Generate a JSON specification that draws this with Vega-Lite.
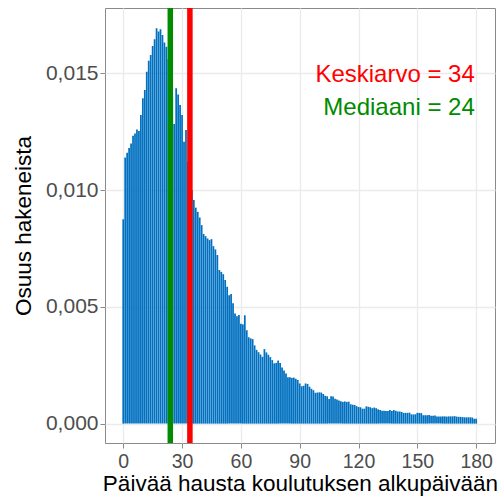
{
  "$schema": "https://vega.github.io/schema/vega-lite/v6.json",
  "autosize": "none",
  "width": 390,
  "height": 435,
  "padding": {"left": 105, "top": 8, "right": 8, "bottom": 58},
  "background": "white",
  "config": {
    "view": {"stroke": "#8a8a8a", "strokeWidth": 1},
    "font": "Liberation Sans",
    "axis": {
      "domain": false,
      "grid": true,
      "gridColor": "#EBEBEB",
      "gridWidth": 1.3,
      "tickColor": "#8a8a8a",
      "tickSize": 5,
      "labelFont": "Liberation Sans",
      "labelFontSize": 19.5,
      "labelColor": "#4D4D4D",
      "labelPadding": 2,
      "titleFont": "Liberation Sans",
      "titleFontSize": 22.5,
      "titleFontWeight": "normal",
      "titleColor": "#000000"
    }
  },
  "datasets": {
    "bars": [
      {"day": 0, "share": 0.00875}, {"day": 1, "share": 0.0114}, {"day": 2, "share": 0.0116}, {"day": 3, "share": 0.0118}, {"day": 4, "share": 0.012}, {"day": 5, "share": 0.01233}, {"day": 6, "share": 0.01243}, {"day": 7, "share": 0.0126}, {"day": 8, "share": 0.01253}, {"day": 9, "share": 0.01322},
      {"day": 10, "share": 0.01393}, {"day": 11, "share": 0.01429}, {"day": 12, "share": 0.01507}, {"day": 13, "share": 0.01554}, {"day": 14, "share": 0.01579}, {"day": 15, "share": 0.01617}, {"day": 16, "share": 0.01646}, {"day": 17, "share": 0.01693}, {"day": 18, "share": 0.01679}, {"day": 19, "share": 0.01689},
      {"day": 20, "share": 0.01664}, {"day": 21, "share": 0.01632}, {"day": 22, "share": 0.01614}, {"day": 23, "share": 0.0156}, {"day": 24, "share": 0.0148}, {"day": 25, "share": 0.014}, {"day": 26, "share": 0.01283}, {"day": 27, "share": 0.01436}, {"day": 28, "share": 0.0141}, {"day": 29, "share": 0.01365},
      {"day": 30, "share": 0.01322}, {"day": 31, "share": 0.01207}, {"day": 32, "share": 0.01258}, {"day": 33, "share": 0.0112}, {"day": 34, "share": 0.0105}, {"day": 35, "share": 0.01}, {"day": 36, "share": 0.00958}, {"day": 37, "share": 0.00925}, {"day": 38, "share": 0.00907}, {"day": 39, "share": 0.00883},
      {"day": 40, "share": 0.0085}, {"day": 41, "share": 0.00812}, {"day": 42, "share": 0.00803}, {"day": 43, "share": 0.00793}, {"day": 44, "share": 0.00786}, {"day": 45, "share": 0.0079}, {"day": 46, "share": 0.0076}, {"day": 47, "share": 0.00746}, {"day": 48, "share": 0.00722}, {"day": 49, "share": 0.00658},
      {"day": 50, "share": 0.0065}, {"day": 51, "share": 0.0064}, {"day": 52, "share": 0.00615}, {"day": 53, "share": 0.00586}, {"day": 54, "share": 0.0055}, {"day": 55, "share": 0.00555}, {"day": 56, "share": 0.00515}, {"day": 57, "share": 0.00472}, {"day": 58, "share": 0.0046}, {"day": 59, "share": 0.00465},
      {"day": 60, "share": 0.00428}, {"day": 61, "share": 0.00425}, {"day": 62, "share": 0.00464}, {"day": 63, "share": 0.004}, {"day": 64, "share": 0.0037}, {"day": 65, "share": 0.00365}, {"day": 66, "share": 0.00362}, {"day": 67, "share": 0.00335}, {"day": 68, "share": 0.00316}, {"day": 69, "share": 0.00306},
      {"day": 70, "share": 0.00296}, {"day": 71, "share": 0.00286}, {"day": 72, "share": 0.00319}, {"day": 73, "share": 0.00305}, {"day": 74, "share": 0.00295}, {"day": 75, "share": 0.00285}, {"day": 76, "share": 0.00272}, {"day": 77, "share": 0.00258}, {"day": 78, "share": 0.0026}, {"day": 79, "share": 0.0027},
      {"day": 80, "share": 0.0026}, {"day": 81, "share": 0.0024}, {"day": 82, "share": 0.00227}, {"day": 83, "share": 0.00215}, {"day": 84, "share": 0.00199}, {"day": 85, "share": 0.00199}, {"day": 86, "share": 0.00196}, {"day": 87, "share": 0.00197}, {"day": 88, "share": 0.00192}, {"day": 89, "share": 0.00187},
      {"day": 90, "share": 0.00172}, {"day": 91, "share": 0.0016}, {"day": 92, "share": 0.00162}, {"day": 93, "share": 0.00172}, {"day": 94, "share": 0.0017}, {"day": 95, "share": 0.00158}, {"day": 96, "share": 0.00149}, {"day": 97, "share": 0.00143}, {"day": 98, "share": 0.00132}, {"day": 99, "share": 0.00133},
      {"day": 100, "share": 0.00134}, {"day": 101, "share": 0.00133}, {"day": 102, "share": 0.00127}, {"day": 103, "share": 0.00119}, {"day": 104, "share": 0.00117}, {"day": 105, "share": 0.00105}, {"day": 106, "share": 0.00117}, {"day": 107, "share": 0.00116}, {"day": 108, "share": 0.00106}, {"day": 109, "share": 0.00103},
      {"day": 110, "share": 0.00099}, {"day": 111, "share": 0.00096}, {"day": 112, "share": 0.00093}, {"day": 113, "share": 0.00095}, {"day": 114, "share": 0.00093}, {"day": 115, "share": 0.00094}, {"day": 116, "share": 0.00083}, {"day": 117, "share": 0.00081}, {"day": 118, "share": 0.0008}, {"day": 119, "share": 0.00075},
      {"day": 120, "share": 0.00071}, {"day": 121, "share": 0.0007}, {"day": 122, "share": 0.00064}, {"day": 123, "share": 0.00064}, {"day": 124, "share": 0.00074}, {"day": 125, "share": 0.00072}, {"day": 126, "share": 0.0007}, {"day": 127, "share": 0.00066}, {"day": 128, "share": 0.00069}, {"day": 129, "share": 0.00066},
      {"day": 130, "share": 0.00061}, {"day": 131, "share": 0.00058}, {"day": 132, "share": 0.00055}, {"day": 133, "share": 0.00055}, {"day": 134, "share": 0.00054}, {"day": 135, "share": 0.00054}, {"day": 136, "share": 0.00058}, {"day": 137, "share": 0.00054}, {"day": 138, "share": 0.00058}, {"day": 139, "share": 0.00055},
      {"day": 140, "share": 0.00052}, {"day": 141, "share": 0.00052}, {"day": 142, "share": 0.0005}, {"day": 143, "share": 0.00046}, {"day": 144, "share": 0.00046}, {"day": 145, "share": 0.00046}, {"day": 146, "share": 0.00047}, {"day": 147, "share": 0.0004}, {"day": 148, "share": 0.00039}, {"day": 149, "share": 0.0004},
      {"day": 150, "share": 0.00046}, {"day": 151, "share": 0.00046}, {"day": 152, "share": 0.00045}, {"day": 153, "share": 0.00036}, {"day": 154, "share": 0.00036}, {"day": 155, "share": 0.00036}, {"day": 156, "share": 0.00037}, {"day": 157, "share": 0.00034}, {"day": 158, "share": 0.00034}, {"day": 159, "share": 0.00035},
      {"day": 160, "share": 0.00031}, {"day": 161, "share": 0.00031}, {"day": 162, "share": 0.0003}, {"day": 163, "share": 0.00031}, {"day": 164, "share": 0.00031}, {"day": 165, "share": 0.0003}, {"day": 166, "share": 0.00031}, {"day": 167, "share": 0.00031}, {"day": 168, "share": 0.00031}, {"day": 169, "share": 0.00032},
      {"day": 170, "share": 0.0003}, {"day": 171, "share": 0.00029}, {"day": 172, "share": 0.00029}, {"day": 173, "share": 0.00028}, {"day": 174, "share": 0.00027}, {"day": 175, "share": 0.00027}, {"day": 176, "share": 0.00027}, {"day": 177, "share": 0.00027}, {"day": 178, "share": 0.00026}, {"day": 179, "share": 0.00021},
      {"day": 180, "share": 0.00021}
    ],
    "stats": [
      {"stat": "Keskiarvo", "value": 34, "label": "Keskiarvo = 34"},
      {"stat": "Mediaani", "value": 24, "label": "Mediaani = 24"}
    ]
  },
  "layer": [
    {
      "data": {"name": "bars"},
      "mark": {"type": "bar", "width": 1.75, "color": "#0070C0", "stroke": null},
      "encoding": {
        "x": {
          "field": "day", "type": "quantitative",
          "scale": {"domain": [-9.3, 189.6], "nice": false, "zero": false, "padding": 0},
          "axis": {"values": [0, 30, 60, 90, 120, 150, 180], "title": "Päivää hausta koulutuksen alkupäivään", "labelPadding": 4, "titlePadding": 2}
        },
        "y": {
          "field": "share", "type": "quantitative",
          "scale": {"domain": [-0.00083, 0.0178], "nice": false, "zero": false, "padding": 0},
          "axis": {"values": [0, 0.005, 0.01, 0.015], "labelExpr": "replace(format(datum.value, '.3f'), '.', ',')", "labelFontSize": 21, "title": "Osuus hakeneista", "titlePadding": 10}
        },
        "y2": {"datum": 0}
      }
    },
    {
      "data": {"name": "stats"},
      "mark": {"type": "rule", "strokeWidth": 5.5},
      "encoding": {
        "x": {"field": "value", "type": "quantitative"},
        "color": {"field": "stat", "type": "nominal", "scale": {"domain": ["Keskiarvo", "Mediaani"], "range": ["#FF0000", "#008B00"]}, "legend": null}
      }
    },
    {
      "data": {"name": "stats"},
      "transform": [{"filter": "datum.stat === 'Keskiarvo'"}],
      "mark": {"type": "text", "align": "right", "baseline": "middle", "fontSize": 24, "font": "Liberation Sans"},
      "encoding": {
        "x": {"datum": 179.3},
        "y": {"datum": 0.01493},
        "text": {"field": "label"},
        "color": {"field": "stat", "type": "nominal", "legend": null}
      }
    },
    {
      "data": {"name": "stats"},
      "transform": [{"filter": "datum.stat === 'Mediaani'"}],
      "mark": {"type": "text", "align": "right", "baseline": "middle", "fontSize": 24, "font": "Liberation Sans"},
      "encoding": {
        "x": {"datum": 179.3},
        "y": {"datum": 0.01351},
        "text": {"field": "label"},
        "color": {"field": "stat", "type": "nominal", "legend": null}
      }
    }
  ]
}
